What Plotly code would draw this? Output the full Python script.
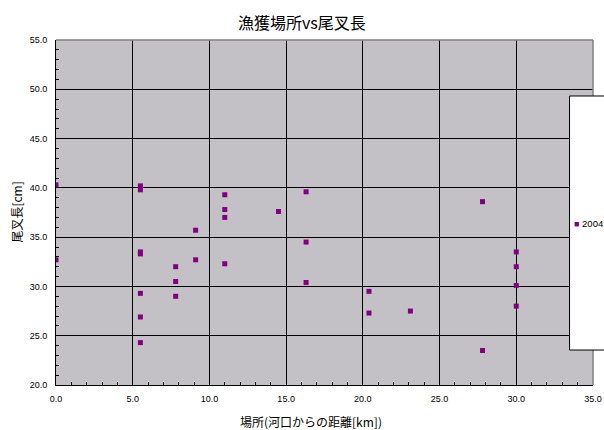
import plotly.graph_objects as go

# Data
distance_km = [0.0, 0.0, 5.5, 5.5, 5.5, 5.5, 5.5, 5.5, 5.5,
               7.8, 7.8, 7.8, 9.1, 9.1,
               11.0, 11.0, 11.0, 11.0, 14.5,
               16.3, 16.3, 16.3, 20.4, 20.4, 23.1,
               27.8, 27.8, 30.0, 30.0, 30.0, 30.0]
fork_length_cm = [40.3, 32.7, 40.2, 39.8, 33.5, 33.3, 29.3, 26.9, 24.3,
                  32.0, 30.5, 29.0, 35.7, 32.7,
                  39.3, 37.8, 37.0, 32.3, 37.6,
                  39.6, 34.5, 30.4, 29.5, 27.3, 27.5,
                  38.6, 23.5, 33.5, 32.0, 30.1, 28.0]
series_name = "2004"

title_text = "漁獲場所vs尾叉長"
x_title = "場所(河口からの距離[km])"
y_title = "尾叉長[cm]"

purple = "#800080"
font_jp = "Noto Sans CJK JP"
font_num = "Liberation Sans"

fig = go.Figure()
fig.add_trace(go.Scatter(
    x=distance_km, y=fork_length_cm, mode="markers", name=series_name,
    marker=dict(symbol="square", size=5, color=purple, line=dict(width=0)),
    showlegend=False,
))

axis_common = dict(
    showgrid=True, gridcolor="black", gridwidth=1,
    showline=True, linecolor="black", linewidth=1,
    zeroline=False, tickformat=".1f", ticks="", automargin=False,
    tickfont=dict(family=font_num, size=9, color="black"),
    minor=dict(dtick=1, ticks="inside", ticklen=3, tickcolor="black", showgrid=False),
    dtick=5,
)

fig.update_layout(
    width=604, height=430, autosize=False,
    margin=dict(l=55.5, r=10.5, t=40, b=45),
    paper_bgcolor="white", plot_bgcolor="#C3C1C5",
    xaxis=dict(range=[0, 35], tick0=0, ticklabelstandoff=5, **axis_common),
    yaxis=dict(range=[20, 55], tick0=20, ticklabelstandoff=6, **axis_common),
    showlegend=False,
)

# plot-area border (gray, top & right)
fig.add_shape(type="line", xref="paper", yref="paper", x0=0, x1=1, y0=1, y1=1,
              line=dict(color="#808080", width=1.5), layer="above")
fig.add_shape(type="line", xref="paper", yref="paper", x0=1, x1=1, y0=0, y1=1,
              line=dict(color="#808080", width=1.5), layer="above")

# legend box
fig.add_shape(type="rect", xref="paper", yref="paper",
              x0=0.9563, x1=1.05, y0=0.1014, y1=0.8377,
              line=dict(color="black", width=1), fillcolor="white", layer="above")
fig.add_annotation(xref="paper", yref="paper", x=0.9600, y=0.4667,
                   xanchor="left", yanchor="middle", showarrow=False,
                   text=f"<span style='color:{purple};font-size:9px'>■</span> {series_name}",
                   font=dict(family=font_num, size=9.5, color="black"))

# titles
fig.add_annotation(xref="paper", yref="paper", x=(301.5 - 55.5) / 538, y=(385 - 22) / 345,
                   xanchor="center", yanchor="middle", showarrow=False,
                   text=title_text, font=dict(family=font_jp, size=16, color="black"))
fig.add_annotation(xref="paper", yref="paper", x=(311 - 55.5) / 538, y=(385 - 422) / 345,
                   xanchor="center", yanchor="middle", showarrow=False,
                   text=x_title, font=dict(family=font_jp, size=12, color="black"))
fig.add_annotation(xref="paper", yref="paper", x=(15 - 55.5) / 538, y=(385 - 212) / 345,
                   xanchor="center", yanchor="middle", showarrow=False, textangle=-90,
                   text=y_title, font=dict(family=font_jp, size=12, color="black"))

fig.write_html("out.html",
               config={"displayModeBar": False, "responsive": False},
               post_script="document.body.style.margin='0';document.body.style.padding='0';")
